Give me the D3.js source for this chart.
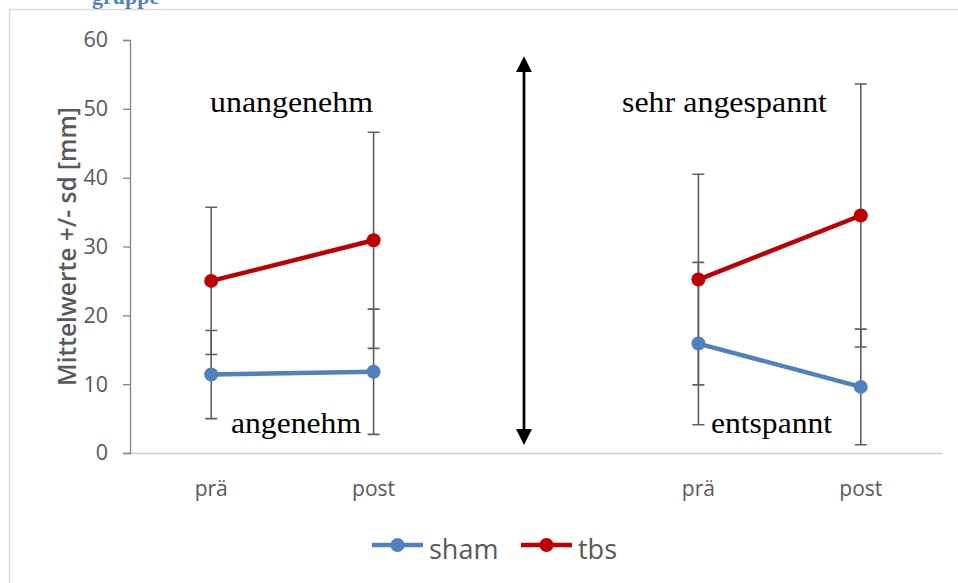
<!DOCTYPE html>
<html>
<head>
<meta charset="utf-8">
<script src="https://cdn.jsdelivr.net/npm/d3@7"></script>
<style>
  body { margin: 0; background: #fff; }
  svg { display: block; }
</style>
</head>
<body>
<svg id="chart" width="958" height="583"></svg>
<script>
// values
const xLabels = ['prä', 'post', '', 'prä', 'post'];
const shamMean = [11.4, 11.8, null, 15.9, 9.6];
const shamSd = [6.4, 9.1, null, 11.8, 8.4];
const tbsMean = [25.0, 30.9, null, 25.2, 34.5];
const tbsSd = [10.7, 15.7, null, 15.3, 19.1];
const yTicks = [0, 10, 20, 30, 40, 50, 60];
const seriesNames = ['sham', 'tbs'];
const seriesColors = ['#4f81bd', '#c00000'];
const upperLabels = ['unangenehm', 'sehr angespannt'];
const lowerLabels = ['angenehm', 'entspannt'];

const svg = d3.select('#chart');
const axisGray = '#595959';

// frame of the chart object
svg.append('rect')
  .attr('x', 9.5).attr('y', 9.5)
  .attr('width', 980).attr('height', 600)
  .attr('fill', 'none')
  .attr('stroke', '#d9d9d9')
  .attr('stroke-width', 1.5);

// caption above, cut off by the page edge as in the original
svg.append('text')
  .attr('x', 92).attr('y', 4)
  .attr('font-family', 'Liberation Serif')
  .attr('font-weight', 'bold')
  .attr('font-size', 22)
  .attr('fill', '#4f81bd')
  .text('gruppe');

const x = d3.scaleBand()
  .domain(d3.range(xLabels.length))
  .range([130, 942]);

const y = d3.scaleLinear()
  .domain([0, 60])
  .range([453, 40]);

const cx = i => x(i) + x.bandwidth() / 2;

// x axis
const xAxis = svg.append('g')
  .attr('transform', `translate(0, ${y(0)})`)
  .call(d3.axisBottom(x).tickSize(0).tickPadding(28).tickFormat(i => xLabels[i]));
xAxis.select('.domain').attr('stroke', '#d0d0d0').attr('stroke-width', 1.5);
xAxis.selectAll('text')
  .attr('font-family', 'Open Sans')
  .attr('font-size', 21)
  .attr('fill', axisGray);

// y axis
const yAxis = svg.append('g')
  .attr('transform', `translate(130, 0)`)
  .call(d3.axisLeft(y).tickValues(yTicks).tickSize(7).tickSizeOuter(7).tickPadding(15));
yAxis.select('.domain').attr('stroke', '#868686').attr('stroke-width', 1.3);
yAxis.selectAll('.tick line').attr('stroke', '#868686').attr('stroke-width', 1.3);
yAxis.selectAll('text')
  .attr('font-family', 'Open Sans')
  .attr('font-size', 21.5)
  .attr('fill', axisGray);

svg.append('text')
  .attr('transform', `translate(76, ${(y(0) + y(60)) / 2}) rotate(-90)`)
  .attr('text-anchor', 'middle')
  .attr('font-family', 'Open Sans')
  .attr('font-weight', 600)
  .attr('font-size', 24.5)
  .attr('fill', axisGray)
  .text('Mittelwerte +/- sd [mm]');

// error bars
const series = [
  { name: seriesNames[0], color: seriesColors[0], mean: shamMean, sd: shamSd },
  { name: seriesNames[1], color: seriesColors[1], mean: tbsMean, sd: tbsSd }
];

const bars = [];
series.forEach(s => s.mean.forEach((m, i) => {
  if (m != null) bars.push({ i, lo: m - s.sd[i], hi: m + s.sd[i] });
}));

const eb = svg.append('g')
  .attr('stroke', '#5f5f5f')
  .attr('stroke-width', 1.6);
eb.selectAll('.eb')
  .data(bars)
  .enter()
  .append('path')
  .attr('fill', 'none')
  .attr('d', b => {
    const px = cx(b.i);
    return `M${px},${y(b.hi)}V${y(b.lo)}` +
      `M${px - 6},${y(b.hi)}H${px + 6}` +
      `M${px - 6},${y(b.lo)}H${px + 6}`;
  });

// lines and markers
const line = d3.line()
  .defined(d => d.v != null)
  .x(d => cx(d.i))
  .y(d => y(d.v));

series.forEach(s => {
  const pts = s.mean.map((v, i) => ({ i, v }));
  svg.append('path')
    .attr('d', line(pts))
    .attr('fill', 'none')
    .attr('stroke', s.color)
    .attr('stroke-width', 4.5);
  svg.selectAll(null)
    .data(pts.filter(d => d.v != null))
    .enter()
    .append('circle')
    .attr('cx', d => cx(d.i))
    .attr('cy', d => y(d.v))
    .attr('r', 7)
    .attr('fill', s.color);
});

// annotations
const serif = sel => sel
  .attr('font-family', 'Liberation Serif')
  .attr('font-size', 29)
  .attr('fill', '#000')
  .attr('lengthAdjust', 'spacingAndGlyphs');

const upperX = [210, 622];
const upperW = [163, 205];
const lowerX = [231, 711];
const lowerW = [130, 121];
upperLabels.forEach((t, k) => {
  svg.append('text').call(serif)
    .attr('x', upperX[k]).attr('y', y(49.5))
    .attr('textLength', upperW[k])
    .text(t);
});
lowerLabels.forEach((t, k) => {
  svg.append('text').call(serif)
    .attr('x', lowerX[k]).attr('y', y(2.9))
    .attr('textLength', lowerW[k])
    .text(t);
});

// double arrow
const ax = 524;
svg.append('defs').append('marker')
  .attr('id', 'head')
  .attr('viewBox', '0 0 10 10')
  .attr('refX', 2).attr('refY', 5)
  .attr('markerWidth', 6).attr('markerHeight', 6)
  .attr('markerUnits', 'strokeWidth')
  .attr('orient', 'auto-start-reverse')
  .append('path')
  .attr('d', 'M0,0L10,5L0,10Z')
  .attr('fill', '#000');

svg.append('line')
  .attr('x1', ax).attr('x2', ax)
  .attr('y1', y(57.8) + 14).attr('y2', y(1) - 14)
  .attr('stroke', '#000')
  .attr('stroke-width', 2.7)
  .attr('marker-start', 'url(#head)')
  .attr('marker-end', 'url(#head)');

// legend
const legend = svg.append('g').attr('transform', 'translate(372, 545)');
series.forEach((s, k) => {
  const g = legend.append('g').attr('transform', `translate(${k * 149}, 0)`);
  g.append('line')
    .attr('x1', 0).attr('x2', 51)
    .attr('stroke', s.color).attr('stroke-width', 4.5);
  g.append('circle').attr('cx', 25.5).attr('r', 7).attr('fill', s.color);
  g.append('text')
    .attr('x', 57).attr('y', 14)
    .attr('font-family', 'Open Sans')
    .attr('font-size', 27)
    .attr('fill', axisGray)
    .text(s.name);
});
</script>
</body>
</html>
